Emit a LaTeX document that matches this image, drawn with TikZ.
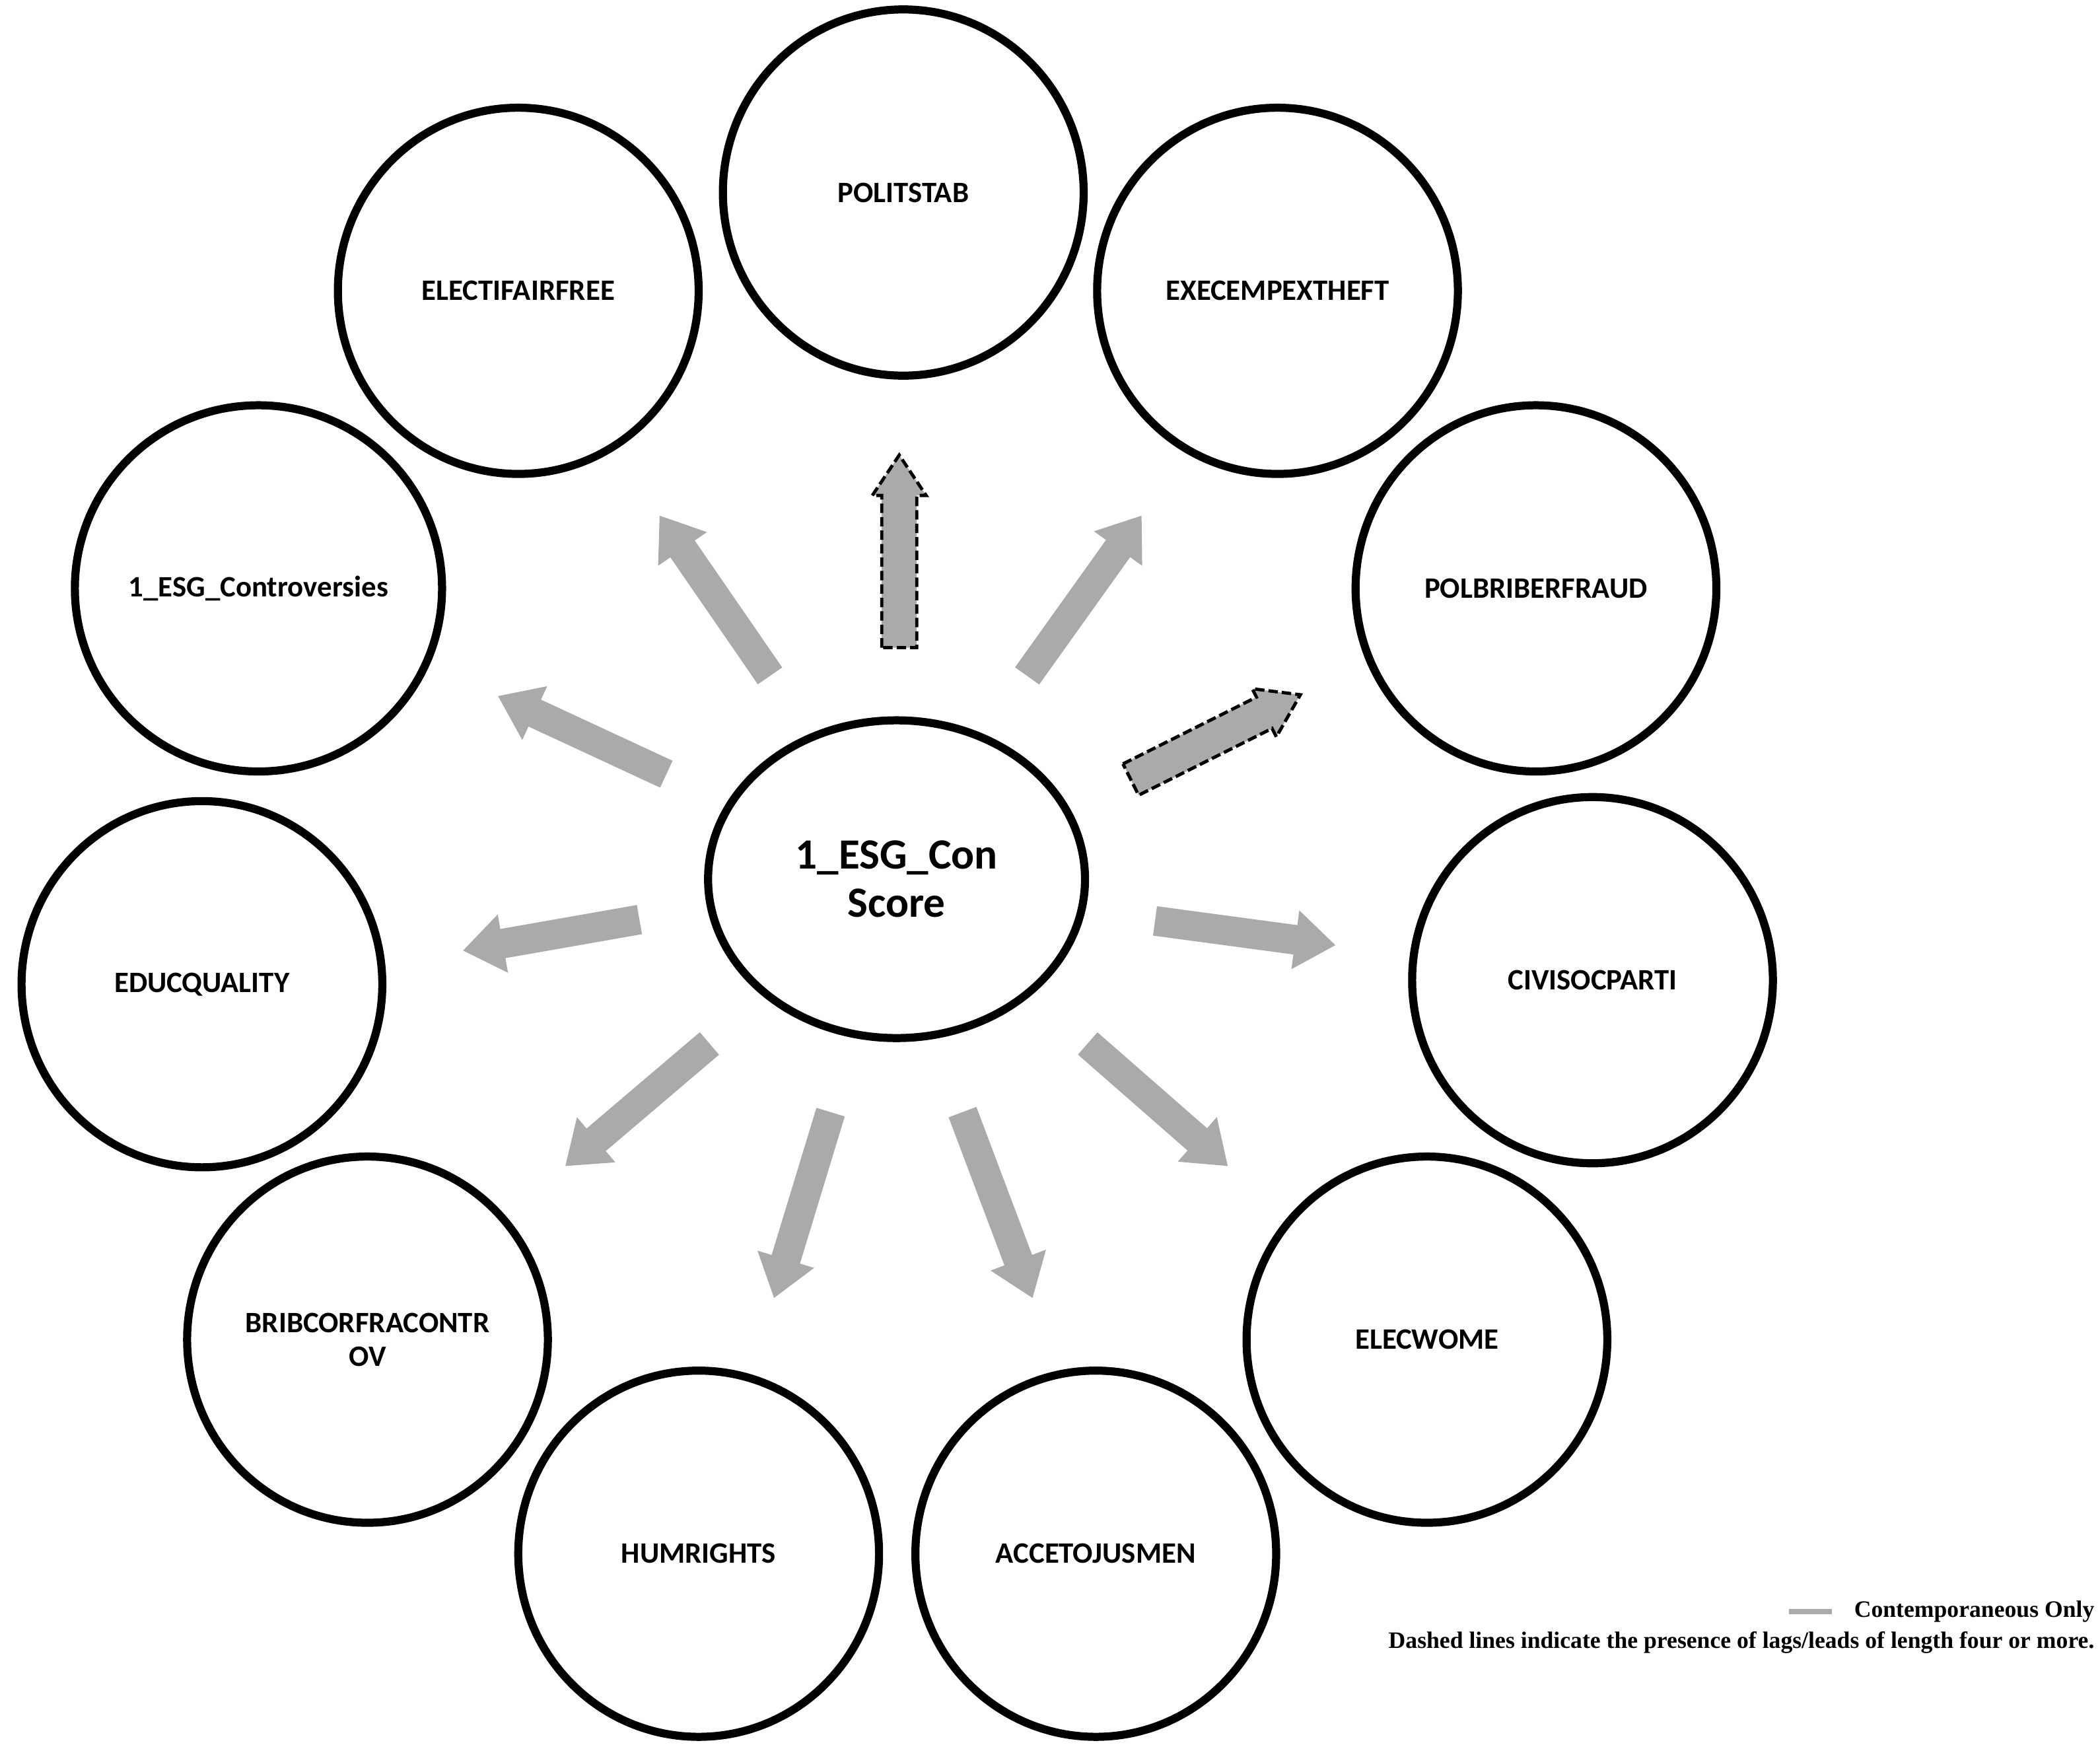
\documentclass[tikz,border=0pt]{standalone}
\usepackage{fontspec}
\setmainfont{Carlito}
\newfontfamily\legfont{Liberation Serif}
\usetikzlibrary{shapes.geometric,calc}
\definecolor{arrgray}{RGB}{170,170,170}
\tikzset{
  circ/.style={ellipse, draw=black, line width=6pt, minimum width=268pt, minimum height=272pt, font=\fontsize{22}{25}\selectfont\bfseries, align=center, inner sep=0pt},
  solidarr/.style={fill=arrgray, draw=none},
  dasharr/.style={fill=arrgray, draw=black, line width=2.4pt, dash pattern=on 7pt off 3pt, line join=miter}
}
% #1 tail, #2 tip, #3 style, #4 half shaft, #5 half head
\newcommand\myarr[5]{\coordinate (pp) at ($(#2)!30pt!(#1)$);
\draw[#3] ($(#1)!#4pt!90:(#2)$) -- ($(pp)!#4pt!-90:(#1)$) -- ($(pp)!#5pt!-90:(#1)$) -- (#2) -- ($(pp)!#5pt!90:(#1)$) -- ($(pp)!#4pt!90:(#1)$) -- ($(#1)!#4pt!-90:(#2)$) -- cycle;}
\begin{document}
\begin{tikzpicture}[x=1pt,y=-1pt]
\useasboundingbox (0,0) rectangle (1560,1296);
\node[circ] (pol) at (671,143) {POLITSTAB};
\node[circ] (exe) at (949,216) {EXECEMPEXTHEFT};
\node[circ] (ele) at (385,216) {ELECTIFAIRFREE};
\node[circ] (con) at (192,437) {1\_ESG\_Controversies};
\node[circ] (bri) at (1141,437) {POLBRIBERFRAUD};
\node[circ] (edu) at (150,731) {EDUCQUALITY};
\node[circ] (civ) at (1183,728) {CIVISOCPARTI};
\node[circ] (brc) at (273,995) {BRIBCORFRACONTR\\OV};
\node[circ] (ewo) at (1060,995) {ELECWOME};
\node[circ] (hum) at (519,1154) {HUMRIGHTS};
\node[circ] (acc) at (814,1154) {ACCETOJUSMEN};
\node[ellipse, draw=black, line width=6pt, minimum width=280pt, minimum height=236pt, font=\fontsize{32}{36}\selectfont\bfseries, align=center, inner sep=0pt] (c) at (666,653) {1\_ESG\_Con\\Score};
\coordinate (t1) at (572,502); \coordinate (h1) at (490,383);
\coordinate (t2) at (668,481); \coordinate (h2) at (668,338);
\coordinate (t3) at (763,502); \coordinate (h3) at (848,383);
\coordinate (t4) at (840,579); \coordinate (h4) at (966,516);
\coordinate (t5) at (495,575); \coordinate (h5) at (370,517);
\coordinate (t6) at (858,684); \coordinate (h6) at (992,702);
\coordinate (t7) at (475,683); \coordinate (h7) at (344,706);
\coordinate (t8) at (527,775); \coordinate (h8) at (420,866);
\coordinate (t9) at (617,826); \coordinate (h9) at (575,964);
\coordinate (t10) at (715,826); \coordinate (h10) at (767,964);
\coordinate (t11) at (808,775); \coordinate (h11) at (912,866);
\myarr{t1}{h1}{solidarr}{11}{22}
\myarr{t2}{h2}{dasharr}{13}{20}
\myarr{t3}{h3}{solidarr}{11}{22}
\myarr{t4}{h4}{dasharr}{13}{20}
\myarr{t5}{h5}{solidarr}{11}{22}
\myarr{t6}{h6}{solidarr}{11}{22}
\myarr{t7}{h7}{solidarr}{11}{22}
\myarr{t8}{h8}{solidarr}{11}{22}
\myarr{t9}{h9}{solidarr}{11}{22}
\myarr{t10}{h10}{solidarr}{11}{22}
\myarr{t11}{h11}{solidarr}{11}{22}
\coordinate (l1) at (1329,1197); \coordinate (l2) at (1361,1197);
\draw[arrgray, line width=4pt] (l1) -- (l2);
\node[anchor=east, inner sep=0pt, font=\legfont\bfseries\fontsize{17.5}{20}\selectfont] (lt1) at (1556,1197) {Contemporaneous Only};
\node[anchor=east, inner sep=0pt, font=\legfont\bfseries\fontsize{17.5}{20}\selectfont] (lt2) at (1556,1220) {Dashed lines indicate the presence of lags/leads of length four or more.};
\end{tikzpicture}
\end{document}
